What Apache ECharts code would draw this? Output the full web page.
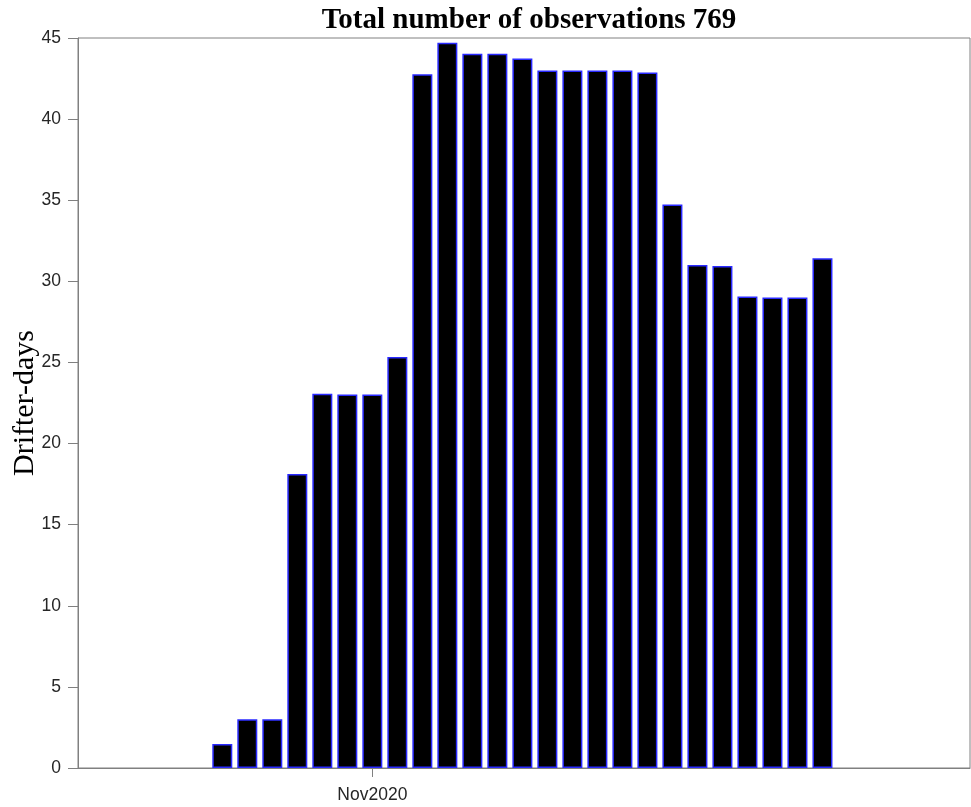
<!DOCTYPE html>
<html>
<head>
<meta charset="utf-8">
<script src="https://cdn.jsdelivr.net/npm/echarts@6/dist/echarts.min.js"></script>
<style>html,body{margin:0;padding:0;background:#fff;}#c{width:971px;height:807px;}</style>
</head>
<body>
<div id="c"></div>
<script>
// Days counted from 2020-10-01 (day 0); Nov 1 2020 = day 31
const dayNumbers = [25,26,27,28,29,30,31,32,33,34,35,36,37,38,39,40,41,42,43,44,45,46,47,48,49];
const drifterDays = [1.48,3.0,3.0,18.13,23.07,23.03,23.03,25.34,42.76,44.71,44.03,44.03,43.73,43.0,43.0,43.0,43.0,42.88,34.73,31.01,30.95,29.07,29.01,29.01,31.42];
const xTickValues = [31];
const xTickLabels = ['Nov2020'];
const yTicks = [0,5,10,15,20,25,30,35,40,45];
const titleText = 'Total number of observations 769';
const yName = 'Drifter-days';

const chart = echarts.init(document.getElementById('c'), null, {renderer:'canvas'});
chart.setOption({
  animation:false,
  backgroundColor:'#ffffff',
  title:{
    text:titleText, left:524, top:1, textAlign:'center',
    textStyle:{fontFamily:'Liberation Serif', fontWeight:'bold', fontSize:29, color:'#000'}
  },
  grid:{left:78, right:1, top:38, bottom:39, show:true, borderColor:'#808080', borderWidth:1, backgroundColor:'transparent', containLabel:false, outerBoundsMode:'none'},
  xAxis:{
    type:'value', min:19.23, max:54.9,
    axisLine:{show:true, onZero:false, lineStyle:{color:'#808080', width:1}},
    splitLine:{show:false},
    axisTick:{show:true, inside:false, length:9, customValues:xTickValues, lineStyle:{color:'#808080'}},
    axisLabel:{show:true, customValues:xTickValues, margin:18, fontFamily:'Liberation Sans', fontSize:17.5, color:'#262626',
      formatter:function(v){const i=xTickValues.indexOf(v);return i>=0?xTickLabels[i]:'';}}
  },
  yAxis:{
    type:'value', min:yTicks[0], max:yTicks[yTicks.length-1], interval:5,
    name:yName, nameLocation:'middle', nameGap:38, nameRotate:90, nameMoveOverlap:false,
    nameTextStyle:{fontFamily:'Liberation Serif', fontSize:30, color:'#000'},
    axisLine:{show:true, lineStyle:{color:'#808080', width:1}},
    splitLine:{show:false},
    axisTick:{show:true, inside:false, length:10, lineStyle:{color:'#808080'}},
    axisLabel:{margin:17, fontFamily:'Liberation Sans', fontSize:17.5, color:'#262626'}
  },
  series:[{
    type:'bar',
    data:dayNumbers.map((d,i)=>[d, drifterDays[i]]),
    barWidth:'80%',
    itemStyle:{color:'#000000', borderColor:'#2a2aff', borderWidth:1.5}
  }]
});
</script>
</body>
</html>
